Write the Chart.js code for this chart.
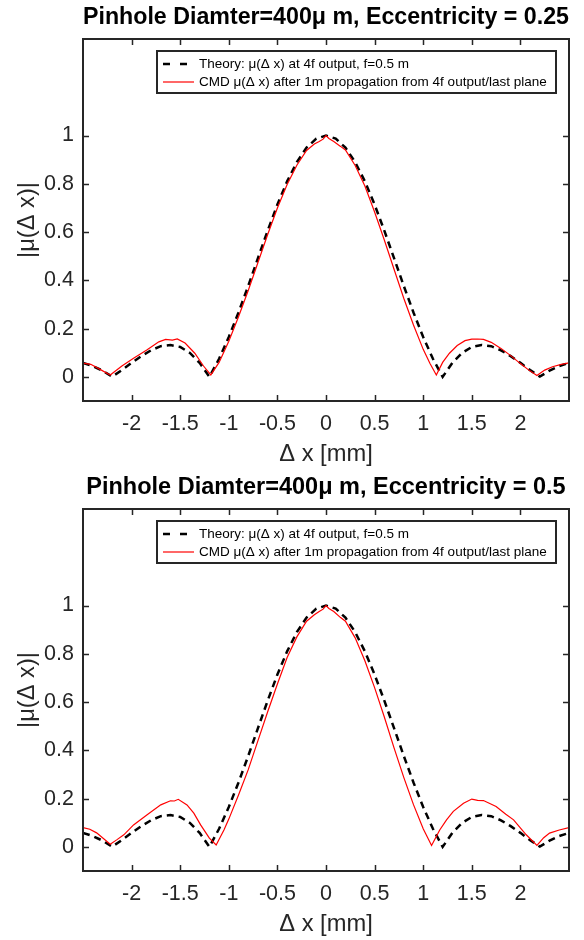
<!DOCTYPE html>
<html><head><meta charset="utf-8">
<script src="https://cdn.jsdelivr.net/npm/chart.js@4.4.1/dist/chart.umd.min.js"></script>
<style>
html,body{margin:0;padding:0;background:#fff;}
#wrap{position:relative;width:584px;height:940px;}
.c{position:absolute;left:0;width:584px;height:470px;}
</style></head><body>
<div id="wrap">
<div class="c" style="top:0"><canvas id="c1" width="584" height="470"></canvas></div>
<div class="c" style="top:470px"><canvas id="c2" width="584" height="470"></canvas></div>
</div>
<script>
// ---- data ----
const chartTitles = ["Pinhole Diamter=400\u03bc m, Eccentricity = 0.25", "Pinhole Diamter=400\u03bc m, Eccentricity = 0.5"];
const xAxisTitle = "\u0394 x [mm]";
const yAxisTitle = "|\u03bc(\u0394 x)|";
const legendLabels = ["Theory: \u03bc(\u0394 x) at 4f output, f=0.5 m", "CMD \u03bc(\u0394 x) after 1m propagation from 4f output/last plane"];
const xTickValues = [-2, -1.5, -1, -0.5, 0, 0.5, 1, 1.5, 2];
const yTickValues = [0, 0.2, 0.4, 0.6, 0.8, 1];

const theoryX = [-2.5,-2.4,-2.3,-2.2,-2.1,-2.0,-1.9,-1.8,-1.7,-1.6,-1.5,-1.4,-1.3,-1.2,-1.1,-1.0,-0.9,-0.8,-0.7,-0.6,-0.5,-0.4,-0.3,-0.2,-0.1,0,
  0.1,0.2,0.3,0.4,0.5,0.6,0.7,0.8,0.9,1.0,1.1,1.2,1.3,1.4,1.5,1.6,1.7,1.8,1.9,2.0,2.1,2.2,2.3,2.4,2.5];
const theoryY = [0.058,0.045,0.026,0.001,0.028,0.058,0.086,0.110,0.127,0.132,0.124,0.099,0.058,0.000,0.075,0.165,0.267,0.377,0.492,0.606,0.714,0.810,0.890,0.950,0.987,1.000,
  0.987,0.950,0.890,0.810,0.714,0.606,0.492,0.377,0.267,0.165,0.075,0.000,0.058,0.099,0.124,0.132,0.127,0.110,0.086,0.058,0.028,0.001,0.026,0.045,0.058];

const cmd1X = [-2.5,-2.42,-2.32,-2.22,-2.1,-1.98,-1.84,-1.72,-1.65,-1.58,-1.53,-1.45,-1.35,-1.26,-1.185,-1.1,-1.0,-0.9,-0.8,-0.7,-0.6,-0.5,-0.4,-0.3,-0.2,-0.12,-0.07,-0.03,0,
  0.03,0.08,0.15,0.2,0.3,0.4,0.5,0.6,0.7,0.8,0.9,1.0,1.07,1.135,1.2,1.27,1.35,1.43,1.5,1.56,1.62,1.7,1.8,1.9,2.0,2.08,2.17,2.25,2.33,2.42,2.5];
const cmd1Y = [0.057,0.052,0.030,0.008,0.045,0.077,0.112,0.145,0.155,0.152,0.157,0.140,0.098,0.045,0.008,0.060,0.148,0.249,0.358,0.474,0.590,0.700,0.797,0.877,0.938,0.965,0.975,0.985,1.000,
  0.988,0.975,0.955,0.940,0.876,0.791,0.683,0.567,0.446,0.326,0.215,0.114,0.055,0.008,0.060,0.098,0.130,0.150,0.156,0.157,0.155,0.143,0.118,0.088,0.055,0.030,0.006,0.028,0.042,0.052,0.058];

const cmd2X = [-2.5,-2.43,-2.36,-2.29,-2.22,-2.15,-2.08,-1.98,-1.84,-1.70,-1.60,-1.56,-1.52,-1.43,-1.36,-1.29,-1.2,-1.13,-1.05,-1.0,-0.9,-0.8,-0.7,-0.6,-0.5,-0.4,-0.3,-0.2,-0.12,-0.07,-0.03,0,
  0.03,0.08,0.15,0.2,0.3,0.4,0.5,0.6,0.7,0.8,0.9,1.0,1.086,1.17,1.24,1.31,1.415,1.5,1.56,1.62,1.75,1.85,1.93,2.06,2.17,2.24,2.3,2.4,2.5];
const cmd2Y = [0.080,0.073,0.058,0.035,0.011,0.030,0.050,0.091,0.133,0.174,0.191,0.190,0.197,0.174,0.140,0.091,0.036,0.008,0.070,0.115,0.215,0.320,0.440,0.560,0.675,0.785,0.870,0.935,0.962,0.975,0.985,1.000,
  0.988,0.975,0.950,0.935,0.866,0.771,0.660,0.538,0.410,0.288,0.175,0.075,0.006,0.070,0.112,0.147,0.181,0.198,0.193,0.192,0.167,0.135,0.112,0.050,0.006,0.038,0.057,0.070,0.080];

// ---- rendering ----
const FONT = "'Liberation Sans', Arial, Helvetica, sans-serif";
const AXC = '#262626';

function pts(xs, ys){ return xs.map((x,i)=>({x:x, y:ys[i]})); }

const boxPlugin = {
  id: 'matlabBox',
  afterDatasetsDraw(chart){
    const {ctx, chartArea:a, scales:{x, y}} = chart;
    ctx.save();
    ctx.strokeStyle = AXC;
    ctx.lineWidth = 1.5;
    ctx.beginPath();
    const tl = 6;
    xTickValues.forEach(v => {
      const px = Math.round(x.getPixelForValue(v)) + 0.5;
      ctx.moveTo(px, a.bottom); ctx.lineTo(px, a.bottom - tl);
      ctx.moveTo(px, a.top); ctx.lineTo(px, a.top + tl);
    });
    yTickValues.forEach(v => {
      const py = Math.round(y.getPixelForValue(v)) + 0.5;
      ctx.moveTo(a.left, py); ctx.lineTo(a.left + tl, py);
      ctx.moveTo(a.right, py); ctx.lineTo(a.right - tl, py);
    });
    ctx.stroke();
    ctx.lineWidth = 2;
    ctx.strokeRect(a.left, a.top, a.right - a.left, a.bottom - a.top);
    ctx.restore();
  }
};

const legendPlugin = {
  id: 'insideLegend',
  afterDraw(chart){
    const {ctx, chartArea:a} = chart;
    const L = a.left + 74, T = a.top + 12, R = a.right - 13, B = a.top + 54;
    ctx.save();
    ctx.fillStyle = '#fff';
    ctx.fillRect(L, T, R - L, B - T);
    ctx.strokeStyle = AXC; ctx.lineWidth = 2;
    ctx.strokeRect(L, T, R - L, B - T);
    ctx.font = '12px ' + FONT;
    const w = ctx.measureText(legendLabels[1]).width;
    const fs = 12 * 348 / w;
    ctx.font = fs.toFixed(2) + 'px ' + FONT;
    ctx.textBaseline = 'middle';
    ctx.fillStyle = '#000';
    const y1 = T + 13, y2 = T + 31;
    ctx.strokeStyle = '#000'; ctx.lineWidth = 2.5;
    ctx.beginPath();
    ctx.moveTo(L + 6, y1); ctx.lineTo(L + 13, y1);
    ctx.moveTo(L + 23, y1); ctx.lineTo(L + 30, y1);
    ctx.stroke();
    ctx.strokeStyle = 'rgb(255,0,0)'; ctx.lineWidth = 1.2;
    ctx.beginPath(); ctx.moveTo(L + 6, y2); ctx.lineTo(L + 37, y2); ctx.stroke();
    ctx.fillText(legendLabels[0], L + 42, y1);
    ctx.fillText(legendLabels[1], L + 42, y2);
    ctx.restore();
  }
};

function makeChart(id, title, cmdX, cmdY){
  return new Chart(document.getElementById(id), {
    type: 'line',
    data: {
      datasets: [
        { label: legendLabels[0], data: pts(theoryX, theoryY), borderColor: '#000', borderWidth: 2.5,
          borderDash: [7,5], pointRadius: 0, tension: 0, fill: false, order: 2 },
        { label: legendLabels[1], data: pts(cmdX, cmdY), borderColor: 'rgb(255,0,0)', borderWidth: 1.2,
          pointRadius: 0, tension: 0, fill: false, order: 1 }
      ]
    },
    options: {
      responsive: false, animation: false, devicePixelRatio: 1,
      layout: { padding: { left: 0, right: 15, top: 0, bottom: 0 } },
      plugins: {
        legend: { display: false },
        tooltip: { enabled: false },
        title: { display: true, text: title, fullSize: false, color: '#000',
          font: { family: FONT, size: 23.5, weight: 'bold', lineHeight: 1.2 },
          padding: { top: 3, bottom: 7.8 } }
      },
      scales: {
        x: {
          type: 'linear', min: -2.5, max: 2.5,
          afterBuildTicks: s => { s.ticks = xTickValues.map(v => ({value: v})); },
          afterFit: s => { s.height = 69; },
          grid: { display: false, drawTicks: false },
          border: { display: false },
          ticks: { color: AXC, font: { family: FONT, size: 21.5 }, padding: 10, maxRotation: 0, autoSkip: false,
            callback: v => String(v) },
          title: { display: true, text: xAxisTitle, color: AXC, font: { family: FONT, size: 23.7, lineHeight: 0.6 },
            padding: { top: 0, bottom: 8 } }
        },
        y: {
          type: 'linear', min: -0.1, max: 1.4,
          afterBuildTicks: s => { s.ticks = yTickValues.map(v => ({value: v})); },
          afterFit: s => { s.width = 83; },
          grid: { display: false, drawTicks: false },
          border: { display: false },
          ticks: { color: AXC, font: { family: FONT, size: 21.5 }, padding: 9, autoSkip: false,
            callback: v => String(v) },
          title: { display: true, text: yAxisTitle, color: AXC, font: { family: FONT, size: 23.7, lineHeight: 1.2 },
            padding: { top: 13, bottom: 0 } }
        }
      }
    },
    plugins: [boxPlugin, legendPlugin]
  });
}

makeChart('c1', chartTitles[0], cmd1X, cmd1Y);
makeChart('c2', chartTitles[1], cmd2X, cmd2Y);
</script>
</body></html>
